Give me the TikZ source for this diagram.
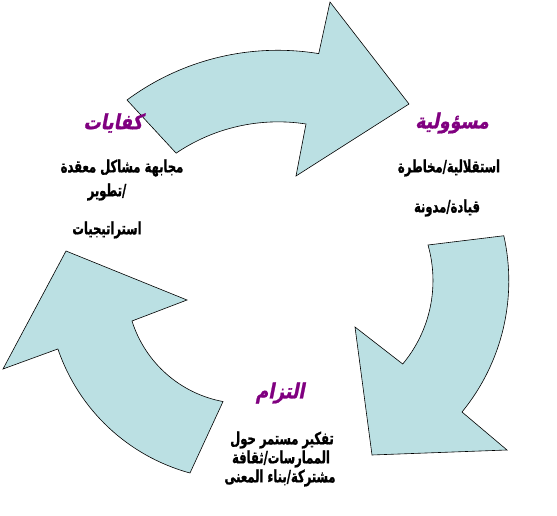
\documentclass[tikz,border=0pt]{standalone}
\usepackage{fontspec}
\usepackage{xcolor}
\usepackage{tikz}
\TeXXeTstate=1
\newfontfamily\arabicfont[Script=Arabic,FakeStretch=0.68,FakeBold=1]{DejaVu Sans Bold}
\newfontfamily\arabictitle[Script=Arabic,FakeSlant=0.2,FakeStretch=0.82,FakeBold=1]{DejaVu Sans Bold}
\definecolor{arrowblue}{RGB}{187,224,227}
\definecolor{titlepurple}{RGB}{128,0,128}

\begin{document}
\begin{tikzpicture}[x=1pt, y=-1pt,
    cyclearrow/.style={draw=black, line width=0.6pt, fill=arrowblue},
    stagetitle/.style={text=titlepurple, inner sep=0pt, font=\arabictitle\fontsize{21}{24}\selectfont},
    stagetext/.style={text=black, inner sep=0pt, font=\arabicfont\fontsize{17}{19}\selectfont}]
    \useasboundingbox (0, 0) rectangle (557, 516);

    % the three arrows
    \draw[cyclearrow] (127, 100) arc[start angle=-126.5, end angle=-80.7, radius=253.5]
        -- (330, 2) -- (409, 104) -- (296, 176) -- (306, 124)
        arc[start angle=-81.2, end angle=-124.1, radius=182] -- cycle;
    \draw[cyclearrow] (428, 245) arc[start angle=-15.9, end angle=39.9, radius=130]
        -- (355, 327) -- (372, 455) -- (507, 450) -- (462, 412)
        arc[start angle=39.3, end angle=-12.6, radius=207] -- cycle;
    \draw[cyclearrow] (190, 473) arc[start angle=105.2, end angle=161.2, radius=193]
        -- (3, 369) -- (66, 251) -- (187, 300) -- (132, 321)
        arc[start angle=162.5, end angle=100.5, radius=118] -- cycle;

    % texts
    \node[stagetitle] at (113, 123) (K) {\beginR كفايات\endR};
    \node[stagetext] at (122, 168) (K1) {\beginR مجابهة مشاكل معقدة\endR};
    \node[stagetext] at (107, 192) (K2) {\beginR /تطوير\endR};
    \node[stagetext] at (107, 230) (K3) {\beginR استراتيجيات\endR};

    \node[stagetitle] at (452, 123) (M) {\beginR مسؤولية\endR};
    \node[stagetext] at (449, 168) (M1) {\beginR استقلالية/مخاطرة\endR};
    \node[stagetext] at (447, 208) (M2) {\beginR قيادة/مدونة\endR};

    \node[stagetitle] at (280, 393) (T) {\beginR التزام\endR};
    \node[stagetext] at (282, 440) (T1) {\beginR تفكير مستمر حول\endR};
    \node[stagetext] at (281, 459) (T2) {\beginR الممارسات/ثقافة\endR};
    \node[stagetext] at (280, 478) (T3) {\beginR مشتركة/بناء المعنى\endR};
\end{tikzpicture}
\end{document}
